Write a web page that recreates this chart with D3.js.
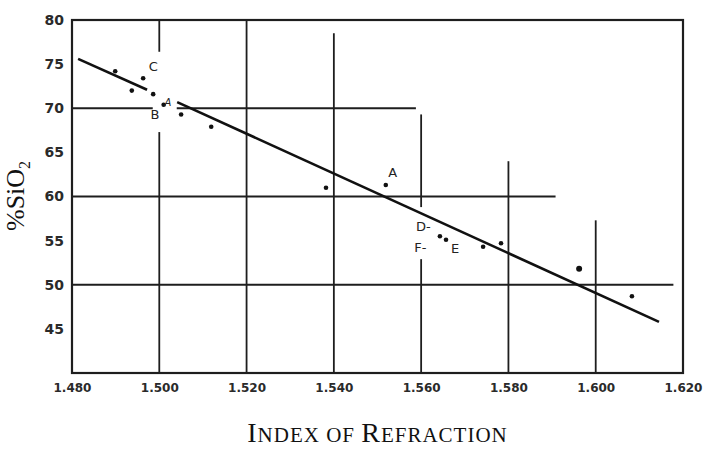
<!DOCTYPE html>
<html>
<head>
  <title>SiO2 vs Index of Refraction</title>
  <style type="text/css">
    body { margin: 0; background: #fff; }
    svg { display: block; }
    .tick-label { font-family: "DejaVu Sans", sans-serif; fill: #2a2a2a; }
    .title { font-family: "Liberation Serif", "DejaVu Serif", serif; fill: #111; }
    .pt-label { font-family: "DejaVu Sans", sans-serif; fill: #222; }
  </style>
</head>
<body>
<svg id="vis" width="707" height="450"></svg>

<script src="https://cdnjs.cloudflare.com/ajax/libs/d3/7.8.5/d3.min.js"></script>
<script type="text/javascript">
  // measured samples: refractive index vs % SiO2
  var indexValues = [1.4899, 1.4937, 1.4963, 1.4986, 1.5010, 1.5050, 1.5119, 1.5382, 1.5519, 1.5643, 1.5657, 1.5742, 1.5783, 1.5962, 1.6083]
  var silicaValues = [74.2, 72.0, 73.4, 71.6, 70.4, 69.3, 67.9, 61.0, 61.3, 55.5, 55.1, 54.3, 54.7, 51.8, 48.7]

  // fitted line, drawn in two pieces (broken around the "A" label)
  var fitIndex = [[1.4814, 1.4972], [1.5041, 1.6145]]
  var fitSilica = [[75.6, 72.1], [70.7, 45.8]]

  // point labels, placed in data units
  var labelText = ['C', 'B', 'A', 'A', 'D-', 'F-', 'E']
  var labelIndex = [1.4986, 1.4990, 1.5020, 1.5535, 1.5588, 1.5584, 1.5678]
  var labelSilica = [74.7, 69.3, 70.6, 62.7, 56.6, 54.2, 54.1]

  // ticks
  var xTicks = [1.480, 1.500, 1.520, 1.540, 1.560, 1.580, 1.600, 1.620]
  var xTickLabels = ['1.480', '1.500', '1.520', '1.540', '1.560', '1.580', '1.600', '1.620']
  var yTicks = [45, 50, 55, 60, 65, 70, 75, 80]

  // hand drawn grid: pieces of the grid lines that exist in the figure
  var hLineAt = [70, 70, 60, 50]
  var hLineFrom = [1.480, 1.5040, 1.480, 1.480]
  var hLineTo = [1.4985, 1.5588, 1.5908, 1.6178]
  var vLineAt = [1.500, 1.500, 1.520, 1.540, 1.560, 1.560, 1.580, 1.600]
  var vLineFrom = [40, 76.4, 40, 40, 40, 58.8, 40, 40]
  var vLineTo = [67.3, 80, 80, 78.5, 52.9, 69.3, 64.0, 57.3]

  var svg = d3.select('#vis')
  var margin = { top: 20, right: 24, bottom: 77, left: 72 }
  var width = +svg.attr('width')
  var height = +svg.attr('height')

  var xScale = d3.scaleLinear()
    .domain([1.48, 1.62])
    .range([margin.left, width - margin.right])
  var yScale = d3.scaleLinear()
    .domain([40, 80])
    .range([height - margin.bottom, margin.top])

  var ink = '#1e1e1e'

  // grid pieces
  var g = svg.append('g')
  g.selectAll('line.h')
    .data(hLineAt)
    .enter().append('line')
      .attr('class', 'h')
      .attr('x1', function(d, i) { return xScale(hLineFrom[i]) })
      .attr('x2', function(d, i) { return xScale(hLineTo[i]) })
      .attr('y1', function(d) { return yScale(d) })
      .attr('y2', function(d) { return yScale(d) })
      .attr('stroke', ink)
      .attr('stroke-width', 1.8)
  g.selectAll('line.v')
    .data(vLineAt)
    .enter().append('line')
      .attr('class', 'v')
      .attr('x1', function(d) { return xScale(d) })
      .attr('x2', function(d) { return xScale(d) })
      .attr('y1', function(d, i) { return yScale(vLineFrom[i]) })
      .attr('y2', function(d, i) { return yScale(vLineTo[i]) })
      .attr('stroke', ink)
      .attr('stroke-width', 1.8)

  // frame
  svg.append('rect')
    .attr('x', xScale(1.48))
    .attr('y', yScale(80))
    .attr('width', xScale(1.62) - xScale(1.48))
    .attr('height', yScale(40) - yScale(80))
    .attr('fill', 'none')
    .attr('stroke', ink)
    .attr('stroke-width', 2.2)

  // axes (labels only, the frame is the axis line)
  var xAxis = d3.axisBottom(xScale)
    .tickValues(xTicks)
    .tickFormat(function(d, i) { return xTickLabels[i] })
    .tickSize(0)
    .tickPadding(10)
  var xg = svg.append('g')
    .attr('transform', 'translate(0,' + yScale(40) + ')')
    .call(xAxis)
  xg.select('.domain').remove()
  xg.selectAll('text')
    .attr('class', 'tick-label')
    .style('font-size', '12px')
    .style('font-weight', 'bold')
    .attr('fill', null)

  var yAxis = d3.axisLeft(yScale)
    .tickValues(yTicks)
    .tickSize(0)
    .tickPadding(8)
  var yg = svg.append('g')
    .attr('transform', 'translate(' + xScale(1.48) + ',0)')
    .call(yAxis)
  yg.select('.domain').remove()
  yg.selectAll('text')
    .attr('class', 'tick-label')
    .style('font-size', '14px')
    .style('font-weight', 'bold')
    .attr('fill', null)

  // fitted line
  var line = d3.line()
    .x(function(d) { return xScale(d[0]) })
    .y(function(d) { return yScale(d[1]) })
  fitIndex.forEach(function(seg, i) {
    svg.append('path')
      .datum([[seg[0], fitSilica[i][0]], [seg[1], fitSilica[i][1]]])
      .attr('d', line)
      .attr('stroke', '#111')
      .attr('stroke-width', 2.6)
      .attr('fill', 'none')
  })

  // points
  svg.selectAll('circle.pt')
    .data(indexValues)
    .enter().append('circle')
      .attr('class', 'pt')
      .attr('cx', function(d) { return xScale(d) })
      .attr('cy', function(d, i) { return yScale(silicaValues[i]) })
      .attr('r', function(d, i) { return i === 13 ? 3 : 2.3 })
      .attr('fill', '#111')

  // point labels
  svg.selectAll('text.pt-label')
    .data(labelText)
    .enter().append('text')
      .attr('class', 'pt-label')
      .attr('x', function(d, i) { return xScale(labelIndex[i]) })
      .attr('y', function(d, i) { return yScale(labelSilica[i]) })
      .attr('text-anchor', function(d) { return d.length > 1 ? 'start' : 'middle' })
      .attr('dominant-baseline', 'central')
      .style('font-size', function(d, i) { return i === 2 ? '10px' : '13px' })
      .style('font-style', function(d, i) { return i === 2 ? 'italic' : 'normal' })
      .text(function(d) { return d })

  // y title: %SiO2
  var yTitle = svg.append('text')
    .attr('class', 'title')
    .attr('transform', 'translate(24,231) rotate(-90)')
    .style('font-size', '26px')
  yTitle.append('tspan').text('%SiO')
  yTitle.append('tspan')
    .attr('dy', 6)
    .style('font-size', '16px')
    .text('2')

  // x title in small caps
  var xTitle = svg.append('text')
    .attr('class', 'title')
    .attr('x', (xScale(1.48) + xScale(1.62)) / 2)
    .attr('y', 442)
    .attr('text-anchor', 'middle')
    .style('letter-spacing', '1px')
  var parts = [['I', 28], ['NDEX OF ', 21], ['R', 28], ['EFRACTION', 21]]
  parts.forEach(function(p) {
    xTitle.append('tspan').style('font-size', p[1] + 'px').text(p[0])
  })
</script>
</body>
</html>
